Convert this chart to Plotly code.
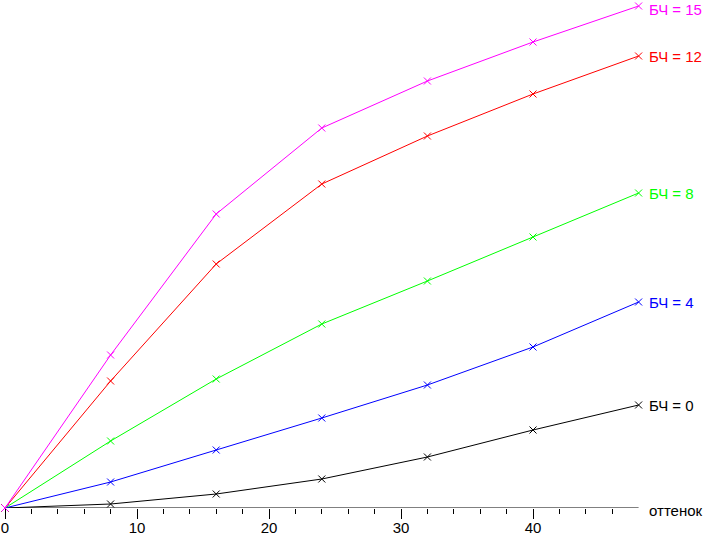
import plotly.graph_objects as go

hue = [0, 8, 16, 24, 32, 40, 48]
bch0 = [0, 4, 14, 29, 51, 78, 103]
bch4 = [0, 26, 58, 90, 123, 161, 206]
bch8 = [0, 67, 129, 184, 227, 271, 315]
bch12 = [0, 127, 244, 324, 372, 414, 452]
bch15 = [0, 153, 294, 380, 427, 466, 502]

series = [
    ("БЧ = 0", bch0, "#000000"),
    ("БЧ = 4", bch4, "#0000FF"),
    ("БЧ = 8", bch8, "#00FF00"),
    ("БЧ = 12", bch12, "#FF0000"),
    ("БЧ = 15", bch15, "#FF00FF"),
]

major_ticks = [0, 10, 20, 30, 40]
minor_ticks = [2, 4, 6, 8, 12, 14, 16, 18, 22, 24, 26, 28, 32, 34, 36, 38, 42, 44, 46]
axis_title = "оттенок"

FONT = "Liberation Sans, Arial, sans-serif"
Y_MAX = 508

fig = go.Figure()
for name, vals, color in series:
    fig.add_trace(go.Scatter(
        x=hue, y=vals, name=name,
        mode="lines+markers",
        line=dict(color=color, width=1),
        marker=dict(symbol="x-thin", size=7, line=dict(color=color, width=1)),
        cliponaxis=False,
        showlegend=False,
        hoverinfo="skip",
    ))
    # keep a label that sits at the very top inside the page
    shift = -3 if vals[-1] > Y_MAX - 10 else 0
    fig.add_annotation(x=hue[-1], y=vals[-1], xref="x", yref="y", text=name,
                       showarrow=False, xanchor="left", yanchor="middle",
                       xshift=8, yshift=shift, font=dict(family=FONT, size=15, color=color))

fig.add_shape(type="line", xref="x", yref="y", x0=hue[0], x1=hue[-1], y0=0, y1=0,
              line=dict(color="black", width=1), layer="below")

fig.add_annotation(x=hue[-1], y=0, xref="x", yref="y", text=axis_title,
                   showarrow=False, xanchor="left", yanchor="middle",
                   xshift=8, yshift=-2, font=dict(family=FONT, size=15, color="black"))

fig.update_layout(
    width=704, height=536,
    margin=dict(l=5, r=0, t=0, b=28, autoexpand=False),
    paper_bgcolor="white", plot_bgcolor="white",
    xaxis=dict(range=[0, 699 / 13.2], showgrid=False, zeroline=False, showline=False,
               automargin=False, fixedrange=True,
               tickmode="array", tickvals=major_ticks, ticks="outside", ticklen=10,
               tickwidth=1, tickcolor="black", ticklabelstandoff=-4,
               minor=dict(tickmode="array", tickvals=minor_ticks, ticks="outside",
                          ticklen=5, tickwidth=1, tickcolor="black", showgrid=False),
               tickfont=dict(family=FONT, size=15, color="black")),
    yaxis=dict(range=[0, Y_MAX], visible=False, automargin=False, fixedrange=True),
)

fig.write_html("out.html", config={"displayModeBar": False},
               post_script="document.body.style.margin='0';document.body.style.overflow='hidden';")
